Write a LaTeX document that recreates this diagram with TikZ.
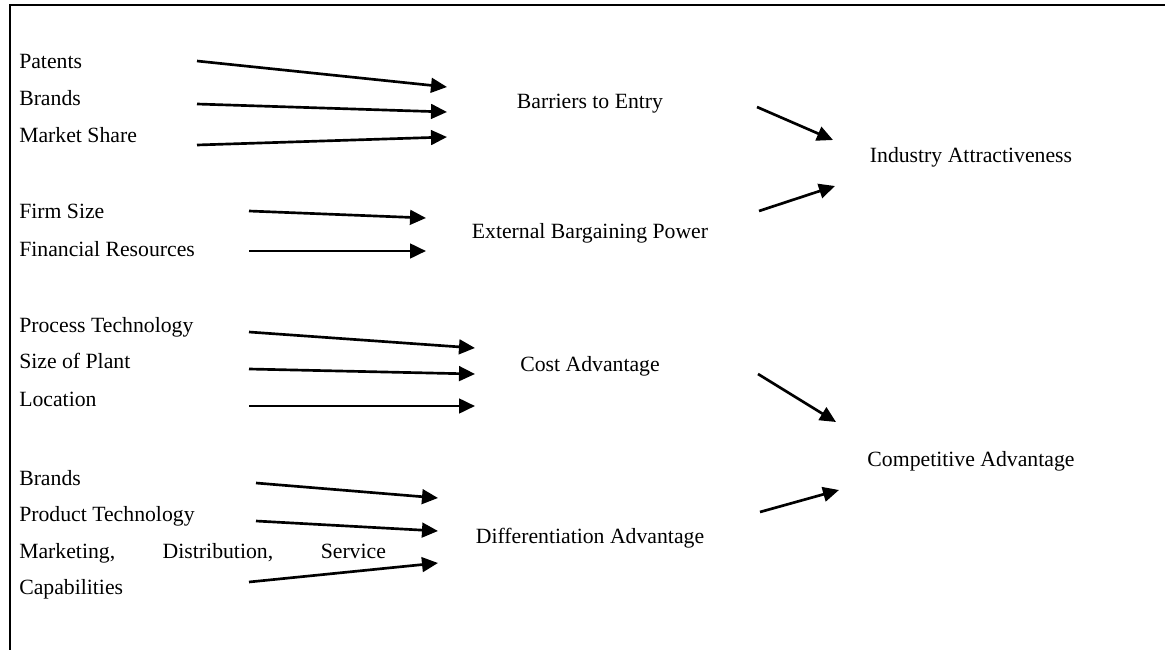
\documentclass[tikz,border=0pt]{standalone}
\usepackage{fontspec}
\setmainfont{Liberation Serif}
\usetikzlibrary{arrows.meta,positioning}

\begin{document}
\begin{tikzpicture}[
    x=0.75pt, y=-0.75pt,
    item/.style={anchor=base west, inner sep=0pt, font=\fontsize{16.3}{27.4}\selectfont},
    factor/.style={anchor=base, inner sep=0pt, font=\fontsize{16.3}{27.4}\selectfont},
    arrow/.style={-{Triangle[length=12pt, width=11pt]}, line width=2pt},
    frame/.style={line width=1.5pt}
]
    \useasboundingbox (0,0) rectangle (1165,650);
    \draw[frame] (10,650) -- (10,5) -- (1165,5);

    % sources
    \node[item] (patents) at (19,68) {Patents};
    \node[item] (brandsA) at (19,105) {Brands};
    \node[item] (mshare) at (19,142) {Market Share};
    \node[item] (fsize) at (19,218) {Firm Size};
    \node[item] (finres) at (19,256) {Financial Resources};
    \node[item] (proctech) at (19,332) {Process Technology};
    \node[item] (plant) at (19,368) {Size of Plant};
    \node[item] (location) at (19,406) {Location};
    \node[item] (brandsB) at (19,485) {Brands};
    \node[item] (prodtech) at (19,521) {Product Technology};
    \node[item, text width=275pt, align=left] (mktg) at (19,558)
        {\hbox to 275pt{Marketing,\hfill Distribution,\hfill Service}\\Capabilities};

    % factors
    \node[factor] (barriers) at (590,108) {Barriers to Entry};
    \node[factor] (bargain) at (590,238) {External Bargaining Power};
    \node[factor] (cost) at (590,371) {Cost Advantage};
    \node[factor] (diff) at (590,543) {Differentiation Advantage};
    \node[factor] (industry) at (971,162) {Industry Attractiveness};
    \node[factor] (compadv) at (971,466) {Competitive Advantage};

    % arrow ends
    \coordinate (patents-s) at (197,61);   \coordinate (patents-e) at (447,87);
    \coordinate (brandsA-s) at (197,104);  \coordinate (brandsA-e) at (447,112);
    \coordinate (mshare-s) at (197,145);   \coordinate (mshare-e) at (447,137);
    \coordinate (fsize-s) at (249,211);    \coordinate (fsize-e) at (426,218);
    \coordinate (finres-s) at (249,251);   \coordinate (finres-e) at (426,251);
    \coordinate (proctech-s) at (249,332); \coordinate (proctech-e) at (475,348);
    \coordinate (plant-s) at (249,369);    \coordinate (plant-e) at (475,374);
    \coordinate (location-s) at (249,406); \coordinate (location-e) at (475,406);
    \coordinate (brandsB-s) at (256,483);  \coordinate (brandsB-e) at (438,498);
    \coordinate (prodtech-s) at (256,521); \coordinate (prodtech-e) at (438,531);
    \coordinate (mktg-s) at (249,582);     \coordinate (mktg-e) at (438,563);
    \coordinate (barriers-s) at (757,107); \coordinate (barriers-e) at (833,140);
    \coordinate (bargain-s) at (759,211);  \coordinate (bargain-e) at (835,186);
    \coordinate (cost-s) at (758,374);     \coordinate (cost-e) at (836,422);
    \coordinate (diff-s) at (760,512);     \coordinate (diff-e) at (839,490);

    \draw[arrow] (patents-s) -- (patents-e);
    \draw[arrow] (brandsA-s) -- (brandsA-e);
    \draw[arrow] (mshare-s) -- (mshare-e);
    \draw[arrow] (fsize-s) -- (fsize-e);
    \draw[arrow] (finres-s) -- (finres-e);
    \draw[arrow] (proctech-s) -- (proctech-e);
    \draw[arrow] (plant-s) -- (plant-e);
    \draw[arrow] (location-s) -- (location-e);
    \draw[arrow] (brandsB-s) -- (brandsB-e);
    \draw[arrow] (prodtech-s) -- (prodtech-e);
    \draw[arrow] (mktg-s) -- (mktg-e);
    \draw[arrow] (barriers-s) -- (barriers-e);
    \draw[arrow] (bargain-s) -- (bargain-e);
    \draw[arrow] (cost-s) -- (cost-e);
    \draw[arrow] (diff-s) -- (diff-e);
\end{tikzpicture}
\end{document}
